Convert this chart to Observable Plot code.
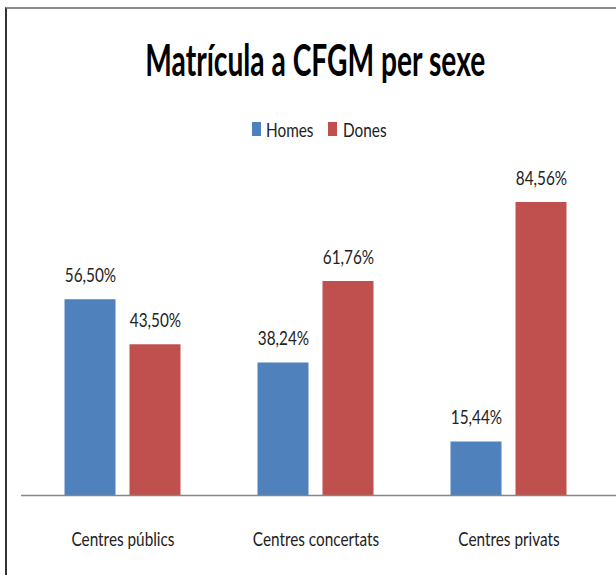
<!DOCTYPE html>
<html>
<head>
<meta charset="utf-8">
<script src="https://cdn.jsdelivr.net/npm/d3@7"></script>
<script src="https://cdn.jsdelivr.net/npm/@observablehq/plot@0.6"></script>
<style>
  html, body { margin: 0; padding: 0; background: #fff; }
  #wrap { position: relative; width: 616px; height: 575px; overflow: hidden; background: #fff;
          font-family: Lato, "Open Sans", "Liberation Sans", sans-serif; }
  #frame { position: absolute; left: 5px; top: 7px; width: 700px; height: 700px;
           border-left: 2px solid #333; border-top: 2px solid #8c8c8c; box-sizing: border-box; }
  #chart { position: absolute; left: 0; top: 0; }
  #title { position: absolute; left: 0; top: 38px; width: 630px; text-align: center; line-height: 1; }
  #title span { display: inline-block; font-weight: bold; font-size: 43px; color: #000; transform-origin: 50% 50%; white-space: nowrap; }
  #legend { position: absolute; left: 0; top: 119px; width: 616px; height: 22px; }
  .key { position: absolute; top: 3px; width: 9px; height: 14px; }
  .lab { position: absolute; top: 0; font-size: 20px; line-height: 20px; color: #222; white-space: nowrap; transform-origin: 0 50%; }
</style>
</head>
<body>
<div id="wrap">
  <div id="frame"></div>
  <div id="chart"></div>
  <div id="title"><span>Matrícula a CFGM per sexe</span></div>
  <div id="legend"></div>
</div>
<script>
// ---- data ----
const categories = ["Centres públics", "Centres concertats", "Centres privats"];
const series = ["Homes", "Dones"];
const homes = [56.50, 38.24, 15.44];
const dones = [43.50, 61.76, 84.56];
const colors = ["#4F81BD", "#C0504D"];
const titleText = "Matrícula a CFGM per sexe";

const data = categories.flatMap((c, i) => [
  {category: c, sexe: series[0], value: homes[i]},
  {category: c, sexe: series[1], value: dones[i]}
]);
const fmt = v => v.toFixed(2).replace(".", ",") + "%";

const chart = Plot.plot({
  width: 616,
  height: 575,
  marginTop: 148.5,
  marginBottom: 80,
  marginLeft: 25.5,
  marginRight: 11.5,
  style: {fontFamily: 'Lato, "Open Sans", "Liberation Sans", sans-serif', fontSize: "20px", color: "#222", background: "transparent", overflow: "visible"},
  fx: {domain: categories, padding: 0, label: null, axis: "bottom", tickSize: 0, tickPadding: 36},
  x: {domain: series, axis: null, paddingInner: 0.2154, paddingOuter: 0.592},
  y: {domain: [0, 100], axis: null},
  color: {domain: series, range: colors},
  marks: [
    Plot.barY(data, {fx: "category", x: "sexe", y: "value", fill: "sexe"}),
    // baseline: one rule drawn in the first facet, stretched across the whole plot width
    Plot.ruleY([{category: categories[0], v: 0}], {fx: "category", y: "v", stroke: "#868686", strokeWidth: 1.5, insetLeft: -5, insetRight: -398}),
    Plot.text(data, {fx: "category", x: "sexe", y: "value", text: d => fmt(d.value), dy: -24, fill: "#222", fontSize: 20})
  ]
});
document.getElementById("chart").appendChild(chart);

// condense SVG text like the original narrow font
const svgTexts = Array.from(chart.querySelectorAll("text"));
const calib = svgTexts.find(t => t.textContent === categories[0]);
const k = calib ? 103 / calib.getComputedTextLength() : 0.82;
svgTexts.forEach(t => {
  const L = t.getComputedTextLength();
  if (L > 0) { t.setAttribute("textLength", (L * k).toFixed(1)); t.setAttribute("lengthAdjust", "spacingAndGlyphs"); }
});

// legend
const legend = document.getElementById("legend");
const keyX = [252, 328];
const labX = [266, 343];
series.forEach((s, i) => {
  const key = document.createElement("div");
  key.className = "key"; key.style.left = keyX[i] + "px"; key.style.background = colors[i];
  legend.appendChild(key);
  const l = document.createElement("div");
  l.className = "lab"; l.style.left = labX[i] + "px"; l.textContent = s;
  legend.appendChild(l);
  l.style.transform = `scaleX(${k})`;
});

// fit title width
const ts = document.querySelector("#title span");
ts.textContent = titleText;
const w = ts.getBoundingClientRect().width;
ts.style.transform = `scaleX(${340 / w})`;
</script>
</body>
</html>
